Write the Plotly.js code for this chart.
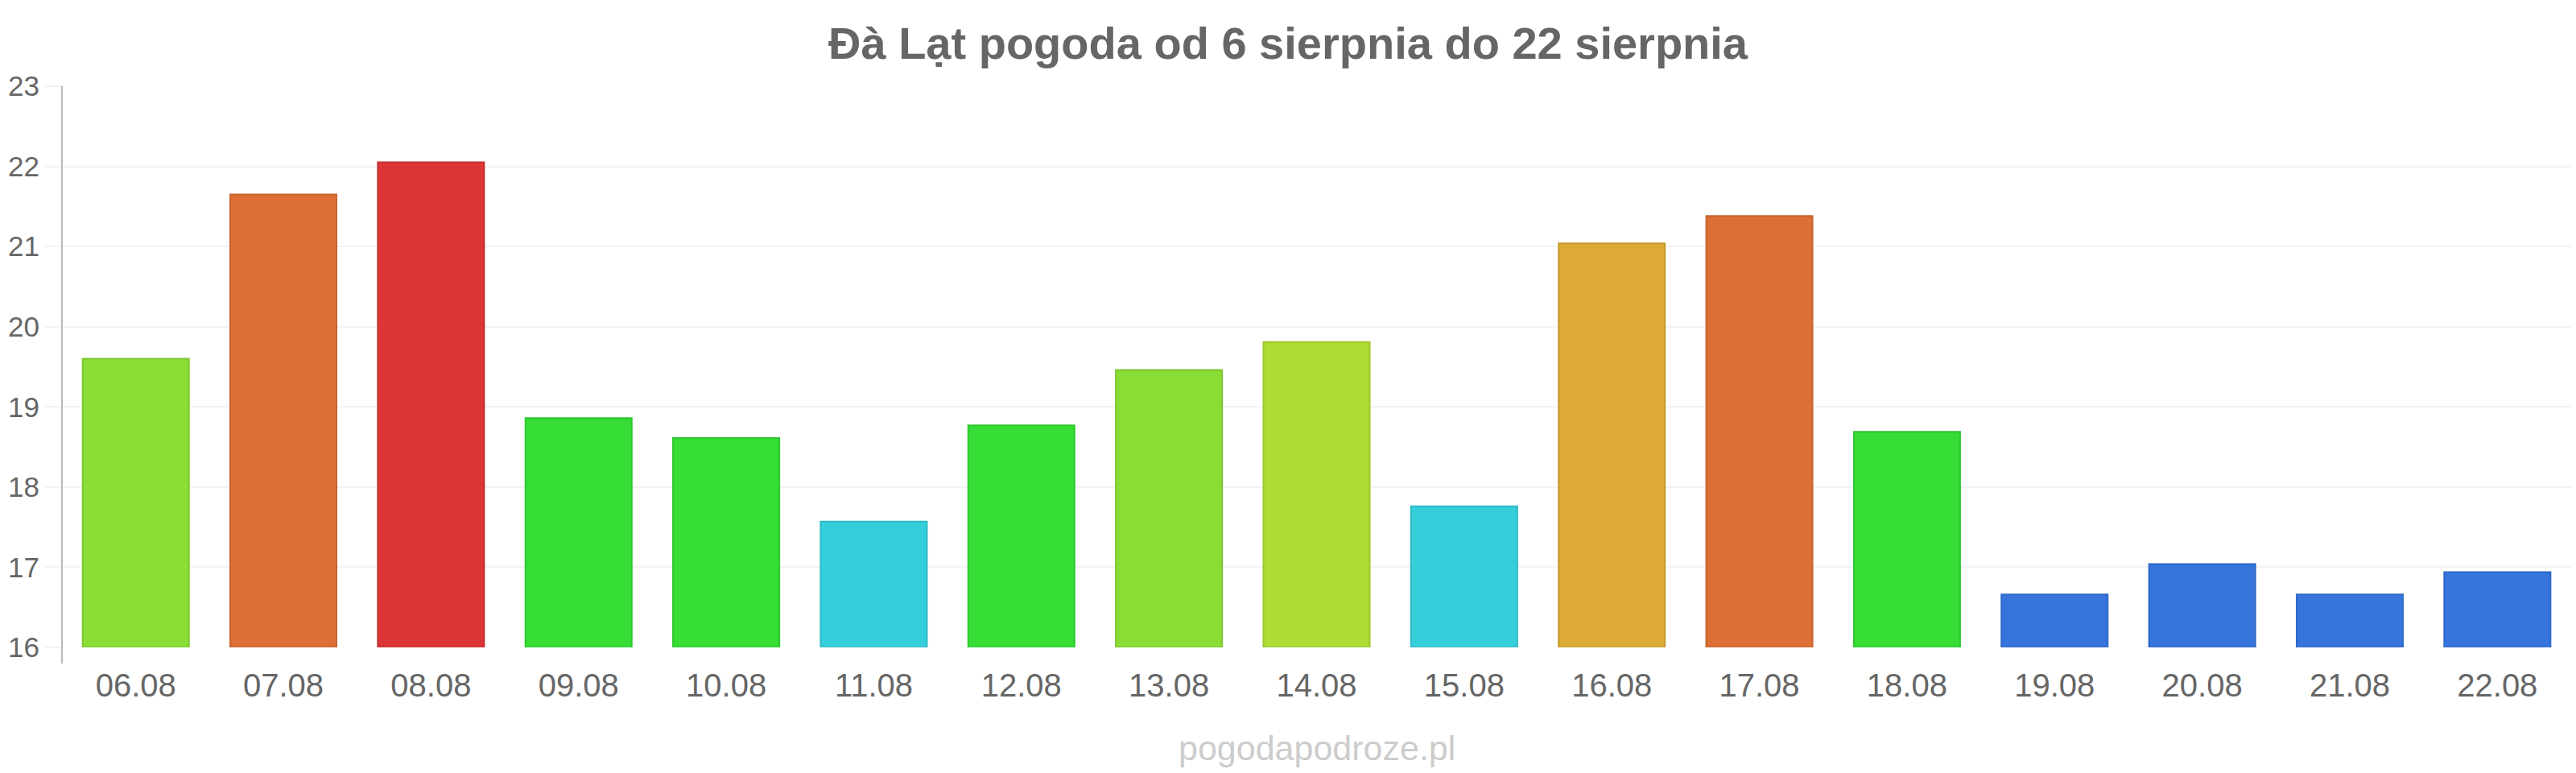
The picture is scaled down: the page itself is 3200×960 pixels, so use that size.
<!DOCTYPE html>
<html>
<head>
<meta charset="utf-8">
<script src="https://cdn.plot.ly/plotly-3.0.1.min.js"></script>
<style>
  html, body { margin: 0; padding: 0; background: #fff; }
  #chart { width: 3200px; height: 960px; }
</style>
</head>
<body>
<div id="chart"></div>
<script>
"use strict";

const days = ["06.08", "07.08", "08.08", "09.08", "10.08", "11.08", "12.08", "13.08", "14.08",
              "15.08", "16.08", "17.08", "18.08", "19.08", "20.08", "21.08", "22.08"];
const temps = [19.6, 21.65, 22.05, 18.86, 18.61, 17.57, 18.77, 19.46, 19.81,
               17.76, 21.04, 21.38, 18.69, 16.66, 17.04, 16.66, 16.94];
const yTicks = [16, 17, 18, 19, 20, 21, 22, 23];

const TITLE = "Đà Lạt pogoda od 6 sierpnia do 22 sierpnia";
const FONT = "'Liberation Sans', Arial, sans-serif";

// temperature band -> [fill, border]
function bandColor(t) {
  if (t < 17.2) return ["#3575dc", "#2f69c6"];
  if (t < 18) return ["#35cfdb", "#2fbac5"];
  if (t < 19) return ["#35dd35", "#2fc62f"];
  if (t < 19.7) return ["#8add35", "#7cc62f"];
  if (t < 20.5) return ["#addd35", "#9cc62f"];
  if (t < 21.2) return ["#dcaa35", "#c6992f"];
  if (t < 22) return ["#dd6f35", "#c6642f"];
  return ["#db3535", "#c52f2f"];
}

const colors = temps.map((t) => bandColor(t));

// bars start at 16, so length is the value above the base
const trace = {
  type: "bar",
  x: days,
  y: temps.map((t) => t - 16),
  base: 16,
  marker: {
    color: colors.map((c) => c[0]),
    line: { color: colors.map((c) => c[1]), width: 2 },
  },
  hoverinfo: "x+y",
};

const layout = {
  width: 3200,
  height: 960,
  paper_bgcolor: "#fff",
  plot_bgcolor: "#fff",
  font: { family: FONT, color: "#666", size: 36 },
  margin: { l: 77, r: 6, t: 107, b: 156 },
  bargap: 0.28,
  showlegend: false,
  title: {
    text: "<b>" + TITLE + "</b>",
    x: 0.5,
    xanchor: "center",
    y: 1 - 53 / 960,
    yanchor: "middle",
    font: { family: FONT, size: 56, color: "#666" },
  },
  xaxis: {
    type: "category",
    showgrid: false,
    zeroline: false,
    showline: false,
    ticks: "outside",
    ticklen: 12,
    tickcolor: "rgba(0,0,0,0)",
    tickfont: { size: 40, color: "#666" },
  },
  yaxis: {
    range: [16, 23],
    tickvals: yTicks,
    gridcolor: "#f3f3f3",
    gridwidth: 2,
    zeroline: false,
    showline: false,
    ticks: "outside",
    ticklen: 20,
    tickwidth: 2,
    tickcolor: "#f3f3f3",
    tickfont: { size: 35, color: "#666" },
  },
  shapes: [
    {
      type: "line",
      xref: "paper",
      yref: "paper",
      x0: 0,
      x1: 0,
      y0: 1,
      y1: -20 / 697,
      line: { color: "#bbbbbb", width: 2 },
    },
  ],
  annotations: [
    {
      text: "pogodapodroze.pl",
      xref: "paper",
      yref: "paper",
      x: 0.5,
      y: -125 / 697,
      xanchor: "center",
      yanchor: "middle",
      showarrow: false,
      font: { family: FONT, size: 43, color: "#cccccc" },
    },
  ],
};

Plotly.newPlot("chart", [trace], layout, { displayModeBar: false, staticPlot: true });
</script>
</body>
</html>
